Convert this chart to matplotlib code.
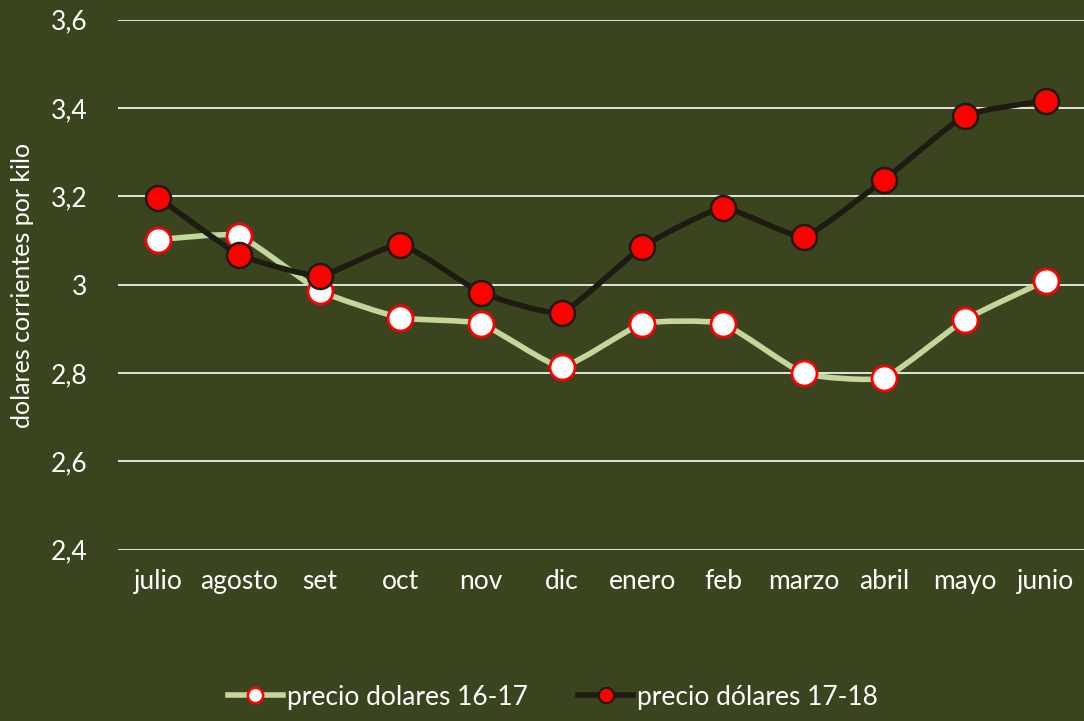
import matplotlib
matplotlib.use("Agg")
import matplotlib.pyplot as plt
from matplotlib.path import Path
from matplotlib.patches import PathPatch
from matplotlib.lines import Line2D
import numpy as np

months = ["julio", "agosto", "set", "oct", "nov", "dic", "enero", "feb",
          "marzo", "abril", "mayo", "junio"]
precio_16_17 = [3.102, 3.111, 2.986, 2.925, 2.912, 2.814, 2.912, 2.912,
                2.799, 2.789, 2.921, 3.009]
precio_17_18 = [3.197, 3.068, 3.020, 3.091, 2.982, 2.937, 3.086, 3.174,
                3.109, 3.238, 3.383, 3.417]
y_ticks = [2.4, 2.6, 2.8, 3.0, 3.2, 3.4, 3.6]
y_tick_labels = ["2,4", "2,6", "2,8", "3", "3,2", "3,4", "3,6"]
label_1 = "precio dolares 16-17"
label_2 = "precio dólares 17-18"
y_title = "dolares corrientes por kilo"

BG = "#3A4520"
GREEN = "#C3D69B"
DARK = "#1E1B13"
RED = "#FF0000"

plt.rcParams['font.family'] = ['Lato', 'DejaVu Sans']

fig = plt.figure(figsize=(10.84, 7.21), dpi=100)
fig.patch.set_facecolor(BG)
ax = fig.add_axes([118/1084, 171.3/721, 968/1084, 530/721])
ax.set_facecolor(BG)
for s in ax.spines.values():
    s.set_visible(False)

ax.set_xlim(-0.5, len(months) - 0.5)
ax.set_ylim(2.4, 3.6)
ax.set_yticks(y_ticks)
ax.set_yticklabels(y_tick_labels)
ax.set_xticks(range(len(months)))
ax.set_xticklabels(months)
ax.tick_params(axis='y', length=0, pad=22, labelsize=19, labelcolor='white')
ax.tick_params(axis='x', length=0, pad=14, labelsize=19, labelcolor='white')
ax.yaxis.grid(True, color='white', linewidth=1.2)
ax.set_axisbelow(True)


def smooth_path(xs, ys, k=14.0):
    pts = np.column_stack([xs, ys]).astype(float)
    n = len(pts)
    verts = [pts[0]]
    codes = [Path.MOVETO]
    for i in range(n - 1):
        p0 = pts[i - 1] if i > 0 else pts[i]
        p1 = pts[i]
        p2 = pts[i + 1]
        p3 = pts[i + 2] if i + 2 < n else pts[i + 1]
        c1 = p1 + (p2 - p0) / k
        c2 = p2 - (p3 - p1) / k
        verts += [c1, c2, p2]
        codes += [Path.CURVE4] * 3
    return Path(verts, codes)


x = np.arange(len(months))
# series 1
ax.add_patch(PathPatch(smooth_path(x, precio_16_17), facecolor='none',
                       edgecolor=GREEN, linewidth=4, capstyle='round',
                       joinstyle='round', zorder=3))
ax.plot(x, precio_16_17, linestyle='none', marker='o', markersize=18,
        markerfacecolor='white', markeredgecolor=RED, markeredgewidth=2,
        zorder=4)
# series 2
ax.add_patch(PathPatch(smooth_path(x, precio_17_18), facecolor='none',
                       edgecolor=DARK, linewidth=4, capstyle='round',
                       joinstyle='round', zorder=5))
ax.plot(x, precio_17_18, linestyle='none', marker='o', markersize=18,
        markerfacecolor=RED, markeredgecolor=DARK, markeredgewidth=1.8,
        zorder=6)

fig.text(23/1084, 1 - 285/721, y_title, rotation=90, color='white',
         fontsize=18, ha='center', va='center')

handles = [
    Line2D([0], [0], color=GREEN, lw=4, marker='o', markersize=11,
           markerfacecolor='white', markeredgecolor=RED, markeredgewidth=1.8),
    Line2D([0], [0], color=DARK, lw=4, marker='o', markersize=11,
           markerfacecolor=RED, markeredgecolor=DARK, markeredgewidth=1.5),
]
leg = fig.legend(handles, [label_1, label_2], loc='center',
                 bbox_to_anchor=(553/1084, 1 - 697/721), ncol=2, frameon=False,
                 fontsize=19, labelcolor='white', handlelength=2.1,
                 handletextpad=0.15, columnspacing=1.9)

fig.savefig("out.png", dpi=100, facecolor=BG)
